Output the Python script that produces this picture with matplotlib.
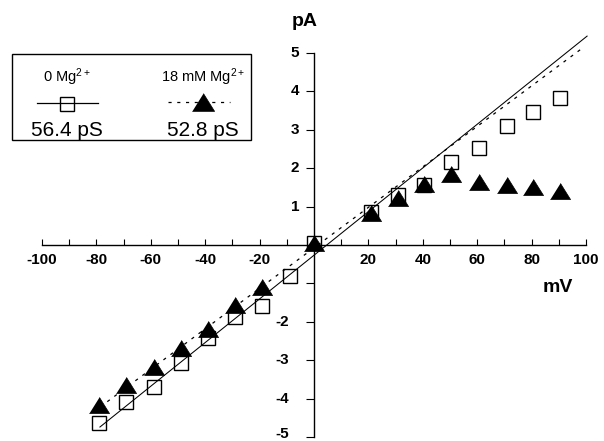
import matplotlib
matplotlib.use("Agg")
import matplotlib.pyplot as plt
from matplotlib.patches import Rectangle
from matplotlib.lines import Line2D
from matplotlib.transforms import offset_copy

plt.rcParams['font.family'] = ['Liberation Sans', 'DejaVu Sans']
plt.rcParams['mathtext.fontset'] = 'custom'
plt.rcParams['mathtext.rm'] = 'Liberation Sans'
plt.rcParams['mathtext.it'] = 'Liberation Sans:italic'
plt.rcParams['mathtext.bf'] = 'Liberation Sans:bold'

# 0 mM Mg2+ (open squares)
v_0mg = [-79, -69, -59, -49, -39, -29, -19, -9, 0, 21, 31, 40.5, 50.5, 60.5, 71, 80.5, 90.5]
i_0mg = [-4.64, -4.1, -3.7, -3.08, -2.42, -1.88, -1.59, -0.81, 0.05,
         0.86, 1.3, 1.56, 2.16, 2.52, 3.1, 3.47, 3.83]

# 18 mM Mg2+ (filled triangles)
v_18mg = [-79, -69, -59, -49, -39, -29, -19, 0, 21, 31, 40.5, 50.5, 60.5, 71, 80.5, 90.5]
i_18mg = [-4.17, -3.65, -3.18, -2.68, -2.19, -1.56, -1.09, 0.05,
          0.83, 1.22, 1.58, 1.85, 1.65, 1.56, 1.5, 1.41]

# linear fits (end points)
fit_v_0mg = [-78.7, 100.4]
fit_i_0mg = [-4.74, 5.44]
fit_v_18mg = [-76, 99.3]
fit_i_18mg = [-4.08, 5.16]

label_0mg = r'0 Mg$^{2+}$'
label_18mg = r'18 mM Mg$^{2+}$'
cond_0mg = '56.4 pS'
cond_18mg = '52.8 pS'

x_ticks = list(range(-100, 0, 10)) + list(range(10, 101, 10))
x_ticklabels = [str(t) if t % 20 == 0 else '' for t in x_ticks]
y_ticks = [-5, -4, -3, -2, -1, 1, 2, 3, 4, 5]
y_ticklabels = ['-5', '-4', '-3', '-2', '', '1', '2', '3', '4', '5']

W, H = 604, 441
fig = plt.figure(figsize=(W / 100, H / 100), dpi=100)
ax = fig.add_axes([0, 0, 1, 1])
ax.patch.set_visible(False)

# pixel mapping: x=0 at 314 px, 2.72 px/mV ; y=0 at 245 px, 38.4 px/pA
ax.set_xlim((0 - 314) / 2.72, (W - 314) / 2.72)
ax.set_ylim((245 - H) / 38.4, 245 / 38.4)

for s in ['top', 'right']:
    ax.spines[s].set_visible(False)
ax.spines['left'].set_position(('data', 0))
ax.spines['bottom'].set_position(('data', 0))
ax.spines['left'].set_bounds(-5, 5)
ax.spines['bottom'].set_bounds(-100, 100)
ax.spines['left'].set_linewidth(1.0)
ax.spines['bottom'].set_linewidth(1.0)

ax.set_xticks(x_ticks)
ax.set_xticklabels(x_ticklabels, fontsize=11, fontweight='bold')
ax.tick_params(axis='x', direction='in', length=4, width=0.8, pad=5.5)

ax.set_yticks(y_ticks)
ax.set_yticklabels([])
ax.tick_params(axis='y', direction='out', length=6, width=0.8)
for t, lab in zip(y_ticks, y_ticklabels):
    dx = -15 if t > 0 else -25
    dy = 0
    if t == -5:
        dy = 3  # keep inside the canvas
    tr = offset_copy(ax.transData, fig=fig, x=dx, y=dy, units='dots')
    ax.text(0, t, lab, transform=tr, ha='right', va='center',
            fontsize=11, fontweight='bold')

tri = [(-1, -0.8), (1, -0.8), (0, 0.8)]

ax.plot(fit_v_0mg, fit_i_0mg, color='black', lw=0.75, zorder=2)
ax.plot(fit_v_18mg, fit_i_18mg, color='black', lw=0.9,
        linestyle=(0, (2.5, 4.5)), zorder=2)
ax.plot(v_0mg, i_0mg, linestyle='none', marker='s', ms=10.5,
        mfc='none', mec='black', mew=1.0, zorder=3)
ax.plot(v_18mg, i_18mg, linestyle='none', marker=tri, ms=14.5,
        mfc='black', mec='black', mew=0.5, zorder=4)

fig.text(305 / W, 1 - 22 / H, 'pA', ha='center', va='center',
         fontsize=14, fontweight='bold')
fig.text(558 / W, 1 - 288 / H, 'mV', ha='center', va='center',
         fontsize=14, fontweight='bold')

# legend box
fig.add_artist(Rectangle((12 / W, 1 - 140 / H), (251 - 12) / W, (140 - 54) / H,
                         transform=fig.transFigure, fill=False, lw=1.0,
                         edgecolor='black'))
fig.text(67 / W, 1 - 77 / H, label_0mg, ha='center', va='center', fontsize=10.5)
fig.text(203 / W, 1 - 77 / H, label_18mg, ha='center', va='center', fontsize=10.5)
fig.add_artist(Line2D([37 / W, 98 / W], [1 - 103 / H, 1 - 103 / H],
                      transform=fig.transFigure, color='black', lw=0.9))
fig.add_artist(Line2D([67 / W], [1 - 104 / H], transform=fig.transFigure,
                      linestyle='none', marker='s', ms=10.5, mfc='none',
                      mec='black', mew=1.0))
fig.add_artist(Line2D([168 / W, 230 / W], [1 - 102 / H, 1 - 102 / H],
                      transform=fig.transFigure, color='black', lw=0.9,
                      linestyle=(0, (2.5, 4.5))))
fig.add_artist(Line2D([203 / W], [1 - 102 / H], transform=fig.transFigure,
                      linestyle='none', marker=tri, ms=16, mfc='black',
                      mec='black', mew=0.5))
fig.text(67 / W, 1 - 130 / H, cond_0mg, ha='center', va='center', fontsize=15)
fig.text(203 / W, 1 - 130 / H, cond_18mg, ha='center', va='center', fontsize=15)

fig.savefig('out.png', dpi=100)
